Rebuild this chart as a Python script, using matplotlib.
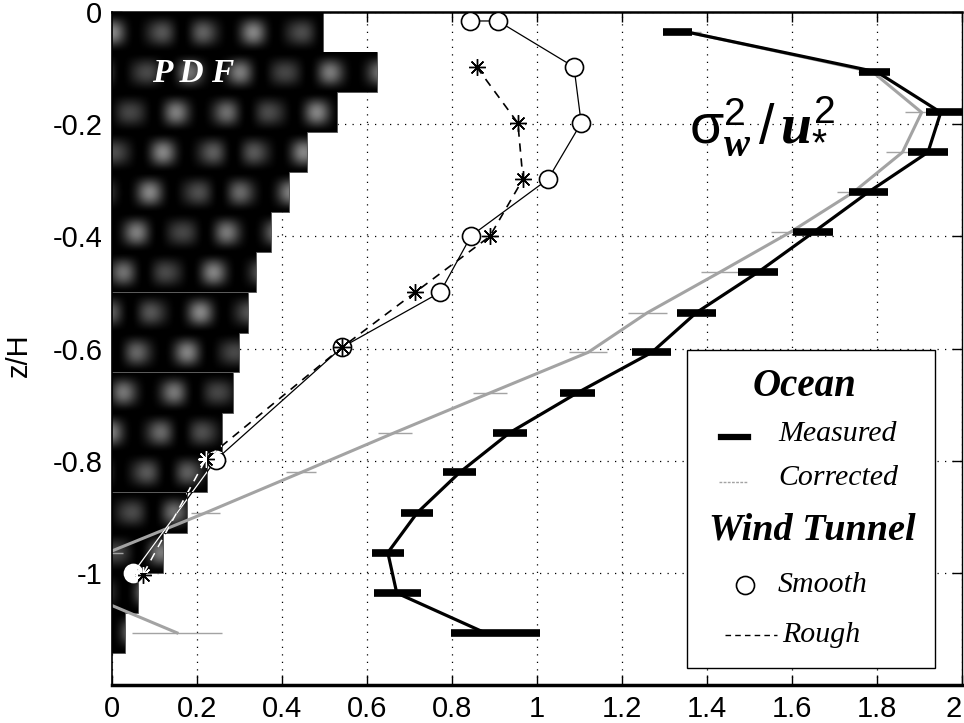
import numpy as np
import matplotlib
matplotlib.use('Agg')
import matplotlib.pyplot as plt
from matplotlib.path import Path
from matplotlib.patches import PathPatch, Rectangle
from matplotlib.lines import Line2D
from matplotlib.ticker import FuncFormatter

# ---------------- data ----------------
z_bins = [-0.036, -0.107, -0.179, -0.250, -0.321, -0.393, -0.464, -0.536,
          -0.607, -0.679, -0.750, -0.821, -0.893, -0.964, -1.036, -1.107]
bin_height = 0.0714
pdf_vals = [0.497, 0.624, 0.529, 0.459, 0.416, 0.374, 0.339, 0.320,
            0.299, 0.285, 0.259, 0.223, 0.176, 0.120, 0.062, 0.031]

meas_x = [1.355, 1.800, 1.950, 1.920, 1.780, 1.650, 1.520, 1.375,
          1.270, 1.095, 0.936, 0.818, 0.718, 0.649, 0.670, 0.878]
meas_lo = [0.059, 0.042, 0.035, 0.047, 0.047, 0.047, 0.046, 0.045,
           0.046, 0.041, 0.040, 0.039, 0.037, 0.037, 0.054, 0.080]
meas_hi = [0.010, 0.031, 0.050, 0.046, 0.047, 0.047, 0.046, 0.045,
           0.046, 0.041, 0.040, 0.039, 0.037, 0.037, 0.057, 0.130]

corr_x = [1.355, 1.790, 1.905, 1.860, 1.745, 1.595, 1.430, 1.260,
          1.120, 0.890, 0.665, 0.445, 0.220, -0.010, -0.070, 0.153]
corr_err = [0.030, 0.035, 0.040, 0.040, 0.040, 0.045, 0.045, 0.045,
            0.045, 0.040, 0.040, 0.035, 0.035, 0.035, 0.040, 0.106]

smooth_x = [0.842, 0.908, 1.087, 1.104, 1.026, 0.845, 0.772, 0.541, 0.245, 0.050]
smooth_z = [-0.016, -0.016, -0.098, -0.198, -0.298, -0.399, -0.500, -0.598, -0.798, -1.000]

rough_x = [0.858, 0.955, 0.967, 0.889, 0.713, 0.541, 0.221, 0.073]
rough_z = [-0.098, -0.198, -0.298, -0.400, -0.500, -0.598, -0.797, -1.003]

xticks = [0, 0.2, 0.4, 0.6, 0.8, 1.0, 1.2, 1.4, 1.6, 1.8, 2.0]
yticks = [-1.0, -0.8, -0.6, -0.4, -0.2, 0.0]

# ---------------- style ----------------
plt.rcParams['font.family'] = ['Liberation Sans', 'DejaVu Sans']
plt.rcParams['mathtext.fontset'] = 'custom'
plt.rcParams['mathtext.rm'] = 'Liberation Sans'
plt.rcParams['mathtext.it'] = 'Liberation Serif:italic:bold'
plt.rcParams['mathtext.bf'] = 'Liberation Serif:italic:bold'

fig = plt.figure(figsize=(9.64, 7.23), dpi=100)
ax = fig.add_axes([112/964, 38/723, 850/964, 673/723])

# ---------------- PDF bars ----------------
bars = ax.barh(z_bins, pdf_vals, height=bin_height, color='black',
               edgecolor='#555555', linewidth=0.6, zorder=1)
paths = [b.get_path().transformed(b.get_patch_transform()) for b in bars]
compound = Path.make_compound_path(*paths)
clip_patch = PathPatch(compound, transform=ax.transData, fc='none', ec='none')
ax.add_patch(clip_patch)

gx = np.linspace(0, 0.7, 420)
gy = np.linspace(-1.2, 0, 760)
GX, GY = np.meshgrid(gx, gy)
row = np.floor(-GY / bin_height)
frac = -GY / bin_height - row
bx = 0.5 + 0.5 * np.cos(2 * np.pi * GX / 0.11 + row * 1.9)
bx2 = 0.5 + 0.5 * np.cos(2 * np.pi * GX / 0.17 + row * 0.7)
by = 0.5 + 0.5 * np.cos(2 * np.pi * (frac - 0.5))
tex = 0.52 * (bx * (0.55 + 0.45 * bx2)) ** 1.1 * by ** 0.9
im = ax.imshow(tex, extent=[0, 0.7, -1.2, 0], origin='lower', cmap='gray',
               vmin=0, vmax=1, aspect='auto', zorder=1.1, interpolation='bilinear')
im.set_clip_path(clip_patch)

# ---------------- curves ----------------
ax.errorbar(corr_x, z_bins, xerr=corr_err, color='#a3a3a3', lw=2.2,
            elinewidth=1.0, capsize=0, zorder=2)
ax.errorbar(meas_x, z_bins, xerr=[meas_lo, meas_hi], color='black', lw=2.3,
            elinewidth=5.5, capsize=0, zorder=3)

ax.plot(smooth_x, smooth_z, color='black', lw=0.9, marker='o', ms=13,
        mfc='white', mec='black', mew=1.2, zorder=4)
ws, = ax.plot(smooth_x, smooth_z, color='white', lw=0.9, marker='o', ms=13,
              mfc='white', mec='white', mew=1.2, zorder=4.1)
ws.set_clip_path(clip_patch)

ax.plot(rough_x, rough_z, color='black', lw=1.2, ls=(0, (5, 4)),
        marker=(8, 2, 0), ms=12, mew=1.0, zorder=5)
wr, = ax.plot(rough_x, rough_z, color='white', lw=1.2, ls=(0, (5, 4)),
              marker=(8, 2, 0), ms=12, mew=1.0, zorder=5.1)
wr.set_clip_path(clip_patch)

# ---------------- annotations ----------------
ax.text(0.19, -0.125, 'P D F', color='white', fontsize=24, fontweight='bold',
        style='italic', family='Liberation Serif', ha='center', va='baseline', zorder=6)
ax.text(1.53, -0.205, r'$\mathrm{\sigma}_{w}^{\mathrm{2}}\mathrm{\,/\,}u_{*}^{\mathrm{2}}$',
        fontsize=40, ha='center', va='center', zorder=6)

# ---------------- axes ----------------
ax.set_xlim(0, 2)
ax.set_ylim(-1.2, 0)
ax.set_xticks(xticks)
ax.set_yticks(yticks)
fmt = FuncFormatter(lambda v, p: '%g' % (0 if abs(v) < 1e-9 else v))
ax.xaxis.set_major_formatter(fmt)
ax.yaxis.set_major_formatter(fmt)
ax.set_axisbelow(True)
ax.grid(True, color='black', linestyle=(0, (1, 5)), linewidth=0.9)
ax.tick_params(direction='in', length=7, width=1.0, top=True, right=True,
               labelsize=21, pad=7)
ax.spines['bottom'].set_linewidth(2.5)
ax.spines['top'].set_linewidth(1.8)
ax.spines['left'].set_linewidth(1.2)
ax.spines['right'].set_linewidth(1.0)
ax.set_ylabel('z/H', fontsize=21)
ax.yaxis.set_label_coords(-0.093, 0.49)
labs = ax.get_xticklabels()
labs[-1].set_horizontalalignment('right')

# ---------------- legend (manual) ----------------
T = ax.transAxes
ax.add_patch(Rectangle((0.6765, 0.0253), 0.2918, 0.4725, transform=T,
                       facecolor='white', edgecolor='black', lw=1.0, zorder=10))
serif = 'Liberation Serif'
ax.text(0.815, 0.443, 'Ocean', transform=T, family=serif, fontsize=28,
        fontweight='bold', style='italic', ha='center', va='center', zorder=11)
ax.add_line(Line2D([0.7165, 0.748], [0.3685, 0.3685], transform=T, color='black',
                   lw=4.5, zorder=11))
ax.text(0.7835, 0.373, 'Measured', transform=T, family=serif, fontsize=21.5,
        style='italic', ha='left', va='center', zorder=11)
ax.add_line(Line2D([0.714, 0.747], [0.3016, 0.3016], transform=T, color='#a3a3a3',
                   lw=1.0, ls=(0, (2, 1)), zorder=11))
ax.text(0.7835, 0.3076, 'Corrected', transform=T, family=serif, fontsize=21.5,
        style='italic', ha='left', va='center', zorder=11)
ax.text(0.8235, 0.2303, 'Wind Tunnel', transform=T, family=serif, fontsize=27.5,
        fontweight='bold', style='italic', ha='center', va='center', zorder=11)
ax.add_line(Line2D([0.7447], [0.1486], transform=T, marker='o', ms=13, mfc='white',
                   mec='black', mew=1.2, zorder=11))
ax.text(0.7835, 0.1486, 'Smooth', transform=T, family=serif, fontsize=21.5,
        style='italic', ha='left', va='center', zorder=11)
ax.add_line(Line2D([0.721, 0.782], [0.0743, 0.0743], transform=T, color='black',
                   lw=1.0, ls=(0, (4, 3)), zorder=11))
ax.text(0.788, 0.0743, 'Rough', transform=T, family=serif, fontsize=21.5,
        style='italic', ha='left', va='center', zorder=11)

fig.savefig('out.png', dpi=100)
